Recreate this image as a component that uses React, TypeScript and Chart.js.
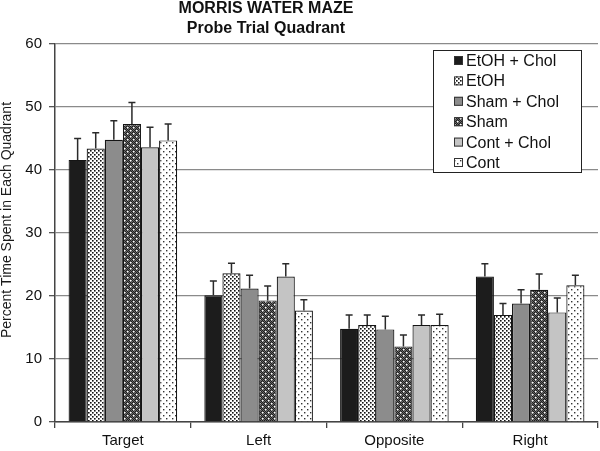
import React, { useEffect, useRef } from "react";
import { Chart, registerables } from "chart.js";

Chart.register(...registerables);

const categories = ["Target", "Left", "Opposite", "Right"];
const seriesNames = ["EtOH + Chol", "EtOH", "Sham + Chol", "Sham", "Cont + Chol", "Cont"];

const etohChol = [41.6, 20.1, 14.8, 23.1];
const etoh = [43.4, 23.6, 15.4, 17.0];
const shamChol = [44.8, 21.2, 14.7, 18.8];
const sham = [47.3, 19.3, 12.0, 21.0];
const contChol = [43.6, 23.1, 15.4, 17.4];
const cont = [44.7, 17.7, 15.4, 21.7];

const etohCholErr = [3.4, 2.3, 2.2, 2.0];
const etohErr = [2.5, 1.6, 1.6, 1.8];
const shamCholErr = [3.0, 2.1, 2.1, 2.2];
const shamErr = [3.4, 2.3, 1.8, 2.5];
const contCholErr = [3.2, 2.0, 1.6, 2.3];
const contErr = [2.6, 1.7, 1.7, 1.6];

const yTicks = [0, 10, 20, 30, 40, 50, 60];
const titleLines = ["MORRIS WATER MAZE", "Probe Trial Quadrant"];
const yTitle = "Percent Time Spent in Each Quadrant";

const FONT = 'Arial, "Liberation Sans", sans-serif';

function makePattern(kind: string): CanvasPattern | string {
  const c = document.createElement("canvas");
  const ctx = c.getContext("2d")!;
  if (kind === "solidDark") return "#1c1c1c";
  if (kind === "solidMid") return "#8c8c8c";
  if (kind === "solidLight") return "#c4c4c4";
  if (kind === "denseDots") {
    c.width = 4; c.height = 4;
    ctx.fillStyle = "#ffffff"; ctx.fillRect(0, 0, 4, 4);
    ctx.fillStyle = "#111111";
    ctx.fillRect(0, 0, 1.6, 1.6);
    ctx.fillRect(2, 2, 1.6, 1.6);
  } else if (kind === "darkHatch") {
    c.width = 6; c.height = 6;
    ctx.fillStyle = "#666666"; ctx.fillRect(0, 0, 6, 6);
    ctx.fillStyle = "#1e1e1e";
    for (let x = 0; x < 6; x++) for (let y = 0; y < 6; y++) if ((x + y) % 2 === 0) ctx.fillRect(x, y, 1, 1);
    ctx.fillStyle = "#ffffff";
    ctx.fillRect(1, 1, 1.5, 1.5);
    ctx.fillRect(4, 4, 1.5, 1.5);
  } else if (kind === "sparseDots") {
    c.width = 6; c.height = 6;
    ctx.fillStyle = "#ffffff"; ctx.fillRect(0, 0, 6, 6);
    ctx.fillStyle = "#333333";
    ctx.fillRect(1, 1, 1.4, 1.4);
    ctx.fillRect(4, 4, 1.4, 1.4);
  }
  return ctx.createPattern(c, "repeat")!;
}

export default function App() {
  const ref = useRef<HTMLCanvasElement>(null);

  useEffect(() => {
    if (!ref.current) return;
    const values = [etohChol, etoh, shamChol, sham, contChol, cont];
    const errs = [etohCholErr, etohErr, shamCholErr, shamErr, contCholErr, contErr];
    const kinds = ["solidDark", "denseDots", "solidMid", "darkHatch", "solidLight", "sparseDots"];
    const fills = kinds.map(makePattern);

    const errorBars = {
      id: "errorBars",
      afterDatasetsDraw(chart: any) {
        const ctx = chart.ctx;
        const yScale = chart.scales.y;
        ctx.save();
        ctx.strokeStyle = "#2a2a2a";
        ctx.lineWidth = 1.5;
        values.forEach((vals, i) => {
          const meta = chart.getDatasetMeta(i);
          meta.data.forEach((el: any, j: number) => {
            const x = el.x;
            const yTop = el.y;
            const yErr = yScale.getPixelForValue(vals[j] + errs[i][j]);
            ctx.beginPath();
            ctx.moveTo(x, yTop);
            ctx.lineTo(x, yErr);
            ctx.moveTo(x - 3.5, yErr);
            ctx.lineTo(x + 3.5, yErr);
            ctx.stroke();
          });
        });
        ctx.restore();
      },
    };

    const decorations = {
      id: "decorations",
      afterDraw(chart: any) {
        const ctx = chart.ctx;
        ctx.save();
        // Title
        ctx.fillStyle = "#111";
        ctx.font = `bold 16px ${FONT}`;
        ctx.textAlign = "center";
        ctx.textBaseline = "middle";
        ctx.fillText(titleLines[0], 266, 9);
        ctx.fillText(titleLines[1], 266, 29);
        // Y title
        ctx.save();
        ctx.translate(7, 220);
        ctx.rotate(-Math.PI / 2);
        ctx.font = `14px ${FONT}`;
        ctx.fillStyle = "#1a1a1a";
        ctx.textAlign = "center";
        ctx.textBaseline = "middle";
        ctx.fillText(yTitle, 0, 0);
        ctx.restore();
        // Legend
        const bx = 433.5, by = 50.5, bw = 148, bh = 122;
        ctx.fillStyle = "#ffffff";
        ctx.fillRect(bx, by, bw, bh);
        ctx.strokeStyle = "#222";
        ctx.lineWidth = 1;
        ctx.strokeRect(bx, by, bw, bh);
        ctx.font = `16px ${FONT}`;
        ctx.textAlign = "left";
        ctx.textBaseline = "middle";
        seriesNames.forEach((name, i) => {
          const cy = 60.5 + i * 20.4;
          ctx.fillStyle = fills[i] as any;
          ctx.fillRect(454, cy - 4.5, 9, 9);
          ctx.strokeStyle = "#333";
          ctx.strokeRect(454.5, cy - 4, 8, 8);
          ctx.fillStyle = "#111";
          ctx.fillText(name, 466, cy + 1);
        });
        ctx.restore();
      },
    };

    const chart = new Chart(ref.current, {
      type: "bar",
      data: {
        labels: categories,
        datasets: values.map((vals, i) => ({
          label: seriesNames[i],
          data: vals,
          backgroundColor: fills[i] as any,
          borderColor: "#151515",
          borderWidth: 1.2,
          barPercentage: 1,
          categoryPercentage: 0.8,
        })),
      },
      options: {
        animation: false,
        responsive: false,
        devicePixelRatio: 1,
        layout: { padding: { left: 0, right: 2, top: 44, bottom: 0 } },
        plugins: {
          legend: { display: false },
          title: { display: false },
          tooltip: { enabled: false },
        },
        scales: {
          x: {
            offset: true,
            grid: {
              offset: true,
              drawOnChartArea: false,
              drawTicks: true,
              tickLength: 6,
              color: "#444",
              lineWidth: 1.3,
            },
            border: { display: true, color: "#444", width: 1.5 },
            ticks: { font: { family: FONT, size: 15 }, color: "#111", padding: 4 },
            afterFit(scale: any) { scale.height = 29; },
          },
          y: {
            min: 0,
            max: 60,
            afterBuildTicks(scale: any) { scale.ticks = yTicks.map((v) => ({ value: v })); },
            grid: {
              color: "#8a8a8a",
              lineWidth: 1.3,
              tickLength: 6,
              tickColor: "#555",
            },
            border: { display: true, color: "#444", width: 1.5 },
            ticks: { font: { family: FONT, size: 15 }, color: "#111", padding: 7 },
            afterFit(scale: any) { scale.width = 55; },
          },
        },
      },
      plugins: [errorBars, decorations],
    });
    return () => chart.destroy();
  }, []);

  return (
    <div style={{ position: "absolute", left: 0, top: 0, width: 600, height: 451, background: "#fff" }}>
      <canvas ref={ref} width={600} height={451} style={{ width: 600, height: 451 }} />
    </div>
  );
}
